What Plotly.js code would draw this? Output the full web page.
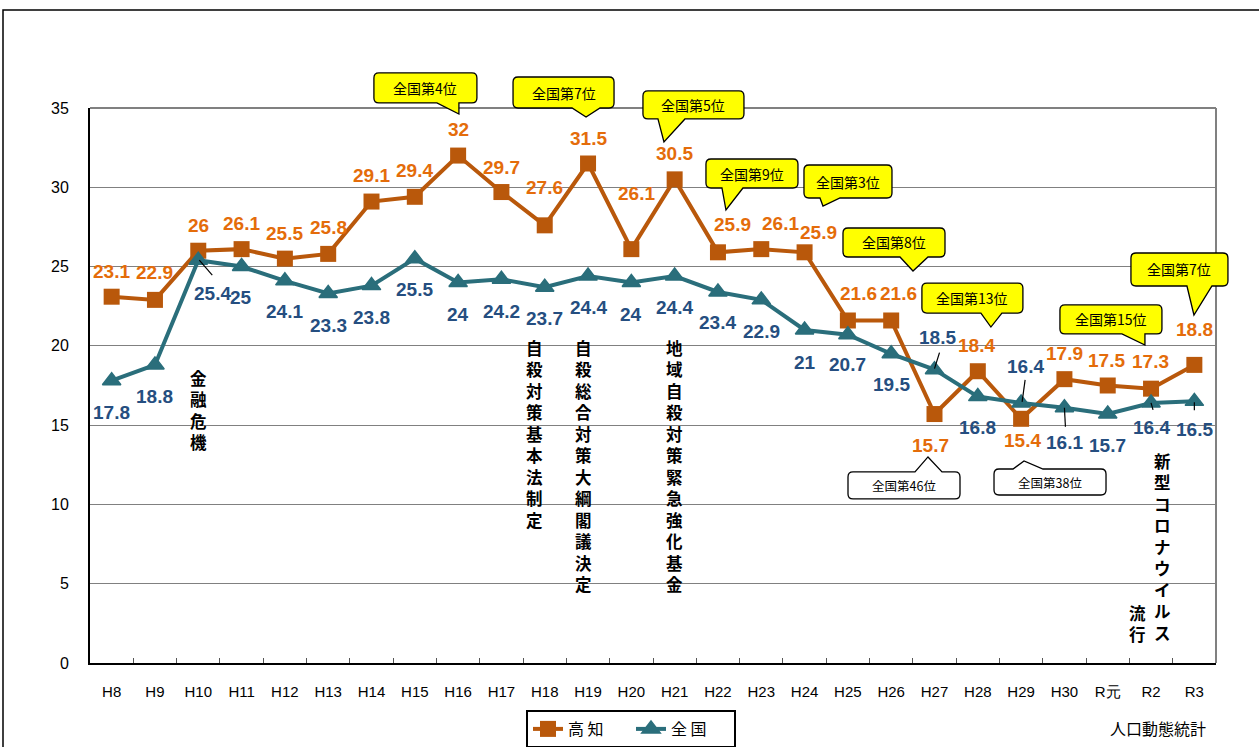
<!DOCTYPE html>
<html><head><meta charset="utf-8">
<script src="https://cdn.plot.ly/plotly-3.0.1.min.js"></script>
<style>html,body{margin:0;padding:0;background:#fff;}#chart{width:1259px;height:747px;}</style>
</head><body><div id="chart"></div>
<script>
// ---- data ----
const categories = ['H8','H9','H10','H11','H12','H13','H14','H15','H16','H17','H18','H19','H20','H21','H22','H23','H24','H25','H26','H27','H28','H29','H30','R元','R2','R3'];
const kochi    = [23.1,22.9,26,26.1,25.5,25.8,29.1,29.4,32,29.7,27.6,31.5,26.1,30.5,25.9,26.1,25.9,21.6,21.6,15.7,18.4,15.4,17.9,17.5,17.3,18.8];
const national = [17.8,18.8,25.4,25,24.1,23.3,23.8,25.5,24,24.2,23.7,24.4,24,24.4,23.4,22.9,21,20.7,19.5,18.5,16.8,16.4,16.1,15.7,16.4,16.5];
const seriesNames = ['高 知','全 国'];
const yTicks = [0,5,10,15,20,25,30,35];

// label offsets (pixels, screen: +down)
const kochiDx = [0,0,0,0,0,0,0,0,0,0,0,0,5,0,15,19,14,11,7,-4,-1,1,0,-1,-1,0];
const kochiDy = [-25,-27,-25,-26,-25,-26,-26,-26,-26,-25,-38,-25,-56,-26,-28,-26,-20,-27,-27,31,-26,22,-26,-25,-27,-35];
const natDx   = [0,0,14,-1,0,0,0,0,0,0,0,0,0,0,0,0,0,0,0,3,0,4,0,0,0,0];
const natDy   = [32,32,33,31,31,32,32,31,32,32,31,31,32,31,31,32,32,30,31,-32,31,-36,35,31,25,28];

// ranking callouts (attached to Kochi points)
const callouts = [
  {i:8,  text:'全国第4位',  yellow:true,  box:[-84.2,18.8,-82.6,-52.6], base:[-21.2,0.8], tip:[0.8,-41.6]},
  {i:11, text:'全国第7位',  yellow:true,  box:[-75,26,-86.5,-55.5],     base:[-16,12],    tip:[-2,-46.5]},
  {i:13, text:'全国第5位',  yellow:true,  box:[-31.7,69.3,-88.4,-60.4], base:[-16.7,10.3],tip:[-10.7,-37.4]},
  {i:14, text:'全国第9位',  yellow:true,  box:[-12,80,-93.3,-64.3],     base:[4,25],      tip:[8,-42.3]},
  {i:16, text:'全国第3位',  yellow:true,  box:[-0.6,87.4,-87.3,-54.3],  base:[15.4,35.4], tip:[18.4,-46.3]},
  {i:18, text:'全国第8位',  yellow:true,  box:[-48.2,53.8,-92.5,-63.5], base:[8.8,36.8],  tip:[21.8,-49.5]},
  {i:20, text:'全国第13位', yellow:true,  box:[-55.9,45.1,-88.2,-58.2], base:[3.1,24.1],  tip:[13.1,-44.2]},
  {i:24, text:'全国第15位', yellow:true,  box:[-91.1,10.9,-83.7,-54.7], base:[-29.1,-6.1],tip:[-6.1,-43.7]},
  {i:25, text:'全国第7位',  yellow:true,  box:[-63.4,33.6,-111.9,-78.9],base:[-7.4,17.6], tip:[-0.4,-49.9]},
  {i:19, text:'全国第46位', yellow:false, box:[-86.5,25.5,57.9,84.9],   base:[-19.5,7.5], tip:[-6.5,42.9]},
  {i:21, text:'全国第38位', yellow:false, box:[-27.1,84.9,50.2,76.2],   base:[-8.1,21.9], tip:[2.9,42.2]}
];

// leader lines attached to national points (screen px offsets)
const leaders = [
  {i:2,  seg:[1,0,14,15]},
  {i:19, seg:[5,-17,0,-1]},
  {i:21, seg:[4,-23,1,-1]},
  {i:22, seg:[0,0,1,19]},
  {i:24, seg:[0,0,2,7]},
  {i:25, seg:[0,1,0,9]}
];

// vertical event notes
const events = [
  {cat:'H10', text:'金融危機', dx:0, top:364},
  {cat:'H18', text:'自殺対策基本法制定', dx:-10, top:334},
  {cat:'H19', text:'自殺総合対策大綱閣議決定', dx:-5, top:334},
  {cat:'H21', text:'地域自殺対策緊急強化基金', dx:0, top:334},
  {cat:'R2',  text:'新型コロナウイルス', dx:11, top:447},
  {cat:'R2',  text:'流行', dx:-14, top:599}
];

// ---- style ----
const W=1259, H=747, ML=90, MR=43, MT=108, MB=84;
const PW=W-ML-MR, PH=H-MT-MB;
const YMAX=35;
const KOCHI_LINE='#B9580B', KOCHI_TEXT='#E46C0A';
const NAT_LINE='#2A6E7B', NAT_TEXT='#254E80';
const LATIN='Liberation Sans, Arial, sans-serif';
const CJK='Noto Sans CJK JP, sans-serif';
const N=categories.length;
const px2paperX = p => (p-ML)/PW;
const px2paperY = p => (H-MB-p)/PH;

const traces = [
  {type:'scatter', mode:'lines+markers', x:categories, y:kochi, name:seriesNames[0],
   line:{color:KOCHI_LINE,width:4}, marker:{symbol:'square',size:16,color:KOCHI_LINE}, cliponaxis:false},
  {type:'scatter', mode:'lines+markers', x:categories, y:national, name:seriesNames[1],
   line:{color:NAT_LINE,width:4}, marker:{symbol:'triangle-up',size:16,color:NAT_LINE,line:{color:NAT_LINE,width:1.5}}, cliponaxis:false}
];

const annotations = [];
categories.forEach((c,i)=>{
  annotations.push({xref:'x',yref:'y',x:c,y:kochi[i],text:String(kochi[i]),showarrow:false,xanchor:'center',yanchor:'middle',
    xshift:kochiDx[i],yshift:-kochiDy[i],font:{family:LATIN,size:19,color:KOCHI_TEXT,weight:'bold'}});
  annotations.push({xref:'x',yref:'y',x:c,y:national[i],text:String(national[i]),showarrow:false,xanchor:'center',yanchor:'middle',
    xshift:natDx[i],yshift:-natDy[i],font:{family:LATIN,size:19,color:NAT_TEXT,weight:'bold'}});
});
events.forEach(e=>{
  annotations.push({xref:'x',yref:'paper',x:e.cat,y:px2paperY(e.top),xanchor:'center',yanchor:'top',xshift:e.dx,
    text:'<b>'+e.text.split('').join('<br>')+'</b>',showarrow:false,
    font:{family:CJK,size:16.5,color:'#000'}});
});

const shapes = [];
// outer frame
shapes.push({type:'rect',xref:'paper',yref:'paper',x0:px2paperX(3),x1:px2paperX(1268),y0:px2paperY(756),y1:px2paperY(10),
  line:{color:'#000',width:1.5},fillcolor:'rgba(0,0,0,0)',layer:'below'});
// plot top & right border (gray)
shapes.push({type:'line',xref:'paper',yref:'paper',x0:0,x1:1,y0:1,y1:1,line:{color:'#808080',width:2}});
shapes.push({type:'line',xref:'paper',yref:'paper',x0:1,x1:1,y0:0,y1:1,line:{color:'#808080',width:2}});

function fmt(x,y){return x.toFixed(1)+','+(-y).toFixed(1);}
function calloutPath(c){
  const [x0,x1,y0,y1]=c.box, [b0,b1]=c.base, [tx,ty]=c.tip, r=5;
  let d='M'+fmt(x0+r,y0);
  if(ty<y0){ d+=' L'+fmt(b0,y0)+' L'+fmt(tx,ty)+' L'+fmt(b1,y0); }
  d+=' L'+fmt(x1-r,y0)+' Q'+fmt(x1,y0)+' '+fmt(x1,y0+r)+' L'+fmt(x1,y1-r)+' Q'+fmt(x1,y1)+' '+fmt(x1-r,y1);
  if(ty>y1){ d+=' L'+fmt(b1,y1)+' L'+fmt(tx,ty)+' L'+fmt(b0,y1); }
  d+=' L'+fmt(x0+r,y1)+' Q'+fmt(x0,y1)+' '+fmt(x0,y1-r)+' L'+fmt(x0,y0+r)+' Q'+fmt(x0,y0)+' '+fmt(x0+r,y0)+' Z';
  return d;
}
callouts.forEach(c=>{
  const xa=(c.i+0.5)/N, ya=kochi[c.i]/YMAX;
  shapes.push({type:'path',xref:'paper',yref:'paper',xsizemode:'pixel',ysizemode:'pixel',xanchor:xa,yanchor:ya,
    path:calloutPath(c),fillcolor:c.yellow?'#FFFF00':'#FFFFFF',line:{color:'#000',width:1.3},layer:'above'});
  annotations.push({xref:'paper',yref:'paper',x:xa,y:ya,showarrow:false,xanchor:'center',yanchor:'middle',
    xshift:(c.box[0]+c.box[1])/2, yshift:-(c.box[2]+c.box[3])/2,
    text:c.text,font:{family:CJK,size:c.yellow?14:12.5,color:'#000'}});
});
leaders.forEach(l=>{
  const xa=(l.i+0.5)/N, ya=national[l.i]/YMAX, s=l.seg;
  shapes.push({type:'line',xref:'paper',yref:'paper',xsizemode:'pixel',ysizemode:'pixel',xanchor:xa,yanchor:ya,
    x0:s[0],y0:-s[1],x1:s[2],y1:-s[3],line:{color:'#000',width:1.2},layer:'above'});
});

annotations.push({xref:'paper',yref:'paper',x:px2paperX(1158),y:px2paperY(728),xanchor:'center',yanchor:'middle',showarrow:false,
  text:'人口動態統計',font:{family:CJK,size:16,color:'#000'}});

const layout = {
  width:W, height:H, margin:{l:ML,r:MR,t:MT,b:MB,pad:0,autoexpand:false},
  paper_bgcolor:'#fff', plot_bgcolor:'#fff',
  showlegend:true,
  legend:{orientation:'h',x:px2paperX(631),xanchor:'center',y:px2paperY(710),yanchor:'top',
    bordercolor:'#000',borderwidth:2,bgcolor:'#fff',font:{family:CJK,size:16,color:'#000'},
    itemwidth:30, entrywidth:58, tracegroupgap:0},
  xaxis:{type:'category',range:[-0.5,N-0.5],showgrid:false,showline:true,linecolor:'#000',linewidth:2,
    ticks:'inside',tickson:'boundaries',ticklen:5,tickcolor:'#555',tickwidth:1,automargin:false,
    tickfont:{family:LATIN,size:15,color:'#000'},ticklabelstandoff:14,fixedrange:true,zeroline:false},
  yaxis:{range:[0,YMAX],tickvals:yTicks,showgrid:true,gridcolor:'#808080',gridwidth:1,showline:true,linecolor:'#000',linewidth:2,automargin:false,
    ticks:'',tickfont:{family:LATIN,size:16,color:'#000'},ticklabelstandoff:16,zeroline:false,fixedrange:true},
  annotations:annotations, shapes:shapes, hovermode:false
};
Plotly.newPlot('chart',traces,layout,{staticPlot:true,displayModeBar:false});
</script></body></html>
